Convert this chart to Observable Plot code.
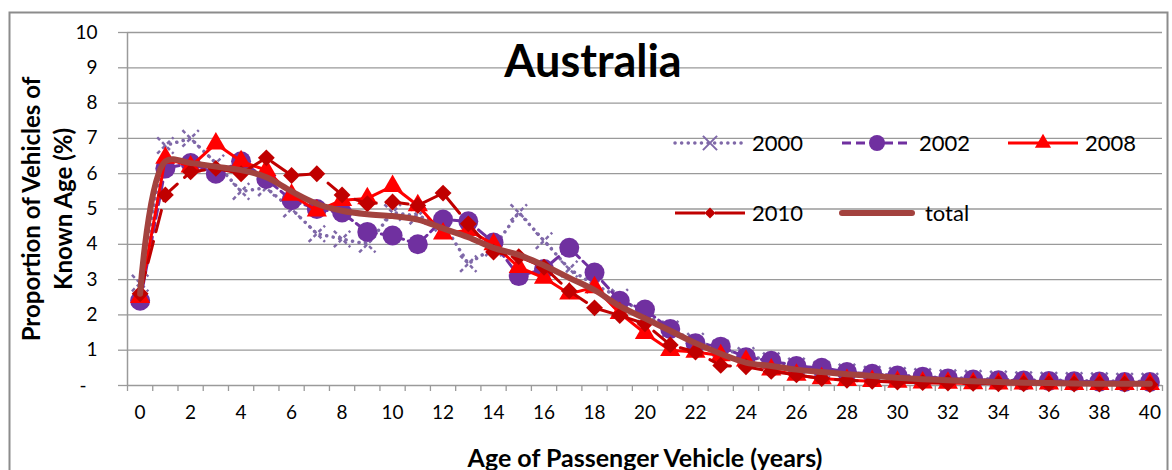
<!DOCTYPE html>
<html>
<head>
<meta charset="utf-8">
<script src="https://cdn.jsdelivr.net/npm/d3@7"></script>
<script src="https://cdn.jsdelivr.net/npm/@observablehq/plot@0.6"></script>
<style>
  html, body { margin: 0; padding: 0; background: #fff; }
  #chart { width: 1172px; height: 470px; }
</style>
</head>
<body>
<div id="chart"></div>
<script>
const ages = d3.range(0, 41);
const xTickLabels = d3.range(0, 41, 2);
const yTicks = d3.range(0, 11);

const s2000 = [2.9, 6.8, 7.0, 6.3, 5.5, 5.6, 5.0, 4.3, 4.15, 4.0, 4.9, 4.8, 4.6, 3.45, 3.9, 4.9, 4.1, 3.3, 2.85, 2.5,
  2.0, 1.6, 1.25, 1.05, 0.85, 0.7, 0.55, 0.45, 0.38, 0.32, 0.28, 0.25, 0.22, 0.2, 0.18, 0.16, 0.15, 0.14, 0.13, 0.12, 0.12];
const s2002 = [2.4, 6.15, 6.3, 6.0, 6.35, 5.85, 5.25, 5.0, 4.9, 4.35, 4.25, 4.0, 4.7, 4.65, 4.05, 3.1, 3.3, 3.9, 3.2, 2.4,
  2.15, 1.6, 1.2, 1.1, 0.8, 0.7, 0.55, 0.5, 0.38, 0.33, 0.28, 0.25, 0.2, 0.17, 0.15, 0.14, 0.13, 0.12, 0.11, 0.1, 0.1];
const s2008 = [2.5, 6.45, 6.2, 6.85, 6.35, 6.1, 5.4, 4.95, 5.25, 5.3, 5.65, 5.1, 4.3, 4.4, 4.0, 3.35, 3.05, 2.6, 2.78, 2.05,
  1.48, 1.0, 0.95, 0.85, 0.7, 0.45, 0.3, 0.2, 0.15, 0.12, 0.1, 0.08, 0.07, 0.06, 0.05, 0.05, 0.05, 0.04, 0.04, 0.04, 0.04];
const s2010 = [2.6, 5.4, 6.05, 6.15, 6.0, 6.45, 5.95, 6.0, 5.4, 5.15, 5.2, 5.1, 5.45, 4.58, 3.78, 3.65, 3.35, 2.68, 2.2, 1.98,
  1.75, 1.15, 0.95, 0.57, 0.53, 0.4, 0.3, 0.2, 0.15, 0.12, 0.1, 0.08, 0.07, 0.06, 0.05, 0.05, 0.05, 0.04, 0.04, 0.04, 0.03];
const sTotal = [2.6, 6.35, 6.3, 6.2, 6.1, 5.9, 5.5, 5.15, 4.95, 4.85, 4.8, 4.7, 4.45, 4.2, 3.9, 3.7, 3.4, 3.05, 2.7, 2.25,
  1.9, 1.55, 1.2, 0.9, 0.65, 0.55, 0.45, 0.38, 0.32, 0.27, 0.22, 0.18, 0.15, 0.12, 0.1, 0.08, 0.07, 0.06, 0.05, 0.05, 0.05];

const seriesNames = ["2000", "2002", "2008", "2010", "total"];
const titleText = "Australia";
const xLabel = "Age of Passenger Vehicle (years)";
const yLabel = "Proportion of Vehicles of\nKnown Age (%)";

const rows = (name, arr) => ages.map((a, i) => ({age: a, v: arr[i], series: name}));
const d2000 = rows("2000", s2000);
const d2002 = rows("2002", s2002);
const d2008 = rows("2008", s2008);
const d2010 = rows("2010", s2010);
const dTotal = rows("total", sTotal);

const C2000 = "#7F68A8", C2002 = "#7030A0", C2008 = "#FF0000", C2010 = "#C00000", CTOT = "#A3423E";
const GRID = "#9a9a9a";
const FONT = "Lato, 'Open Sans', sans-serif";

const plot = Plot.plot({
  width: 1172,
  height: 470,
  marginLeft: 127,
  marginRight: 10,
  marginTop: 32,
  marginBottom: 85,
  style: {fontFamily: FONT, fontSize: "19px", color: "#000", background: "transparent"},
  x: {type: "linear", domain: [-0.5, 40.5]},
  y: {domain: [0, 10]},
  marks: [
    Plot.gridY(d3.range(1, 11), {stroke: GRID, strokeOpacity: 1, strokeWidth: 1.3}),
    Plot.axisY(yTicks, {tickSize: 9, tickPadding: 21, stroke: GRID, strokeWidth: 1.3, fontSize: 19,
      tickFormat: d => d === 0 ? "-\u2007" : String(d), label: null}),
    Plot.axisX(d3.range(-0.5, 41), {tickSize: 6, stroke: GRID, strokeWidth: 1.3, tickFormat: () => "", label: null}),
    Plot.axisX(xTickLabels, {tickSize: 0, tickPadding: 20, fontSize: 19, tickFormat: d => String(d), label: null}),
    Plot.ruleY([0], {stroke: GRID, strokeWidth: 1.5}),
    Plot.ruleX([-0.5], {stroke: GRID, strokeWidth: 1.5}),

    // 2000
    Plot.line(d2000, {x: "age", y: "v", stroke: C2000, strokeWidth: 3.5, strokeDasharray: "0.1 6.5", strokeLinecap: "round"}),
    Plot.dot(d2000, {x: "age", y: "v", symbol: "times", r: 7.5, stroke: C2000, strokeWidth: 2.5, strokeDasharray: "4 3"}),
    // 2002
    Plot.line(d2002, {x: "age", y: "v", stroke: C2002, strokeWidth: 3, strokeDasharray: "9 5"}),
    Plot.dot(d2002, {x: "age", y: "v", symbol: "circle", r: 10, fill: C2002, stroke: "none"}),
    // 2008
    Plot.line(d2008, {x: "age", y: "v", stroke: C2008, strokeWidth: 3}),
    Plot.dot(d2008, {x: "age", y: "v", symbol: "triangle", r: 7.5, fill: C2008, stroke: "none"}),
    // 2010
    Plot.line(d2010, {x: "age", y: "v", stroke: C2010, strokeWidth: 3, strokeDasharray: "22 10"}),
    Plot.dot(d2010, {x: "age", y: "v", symbol: "diamond2", r: 7.6, fill: C2010, stroke: "none"}),
    // total
    Plot.line(dTotal, {x: "age", y: "v", stroke: CTOT, strokeWidth: 6, curve: "catmull-rom", strokeLinecap: "round"}),

    // title & axis labels
    Plot.text([titleText], {text: d => d, frameAnchor: "top", dx: -52, dy: 30, lineAnchor: "middle", textAnchor: "middle",
      fontSize: 45, fontWeight: "bold", fill: "#000"}),
    Plot.text([xLabel], {text: d => d, frameAnchor: "bottom", dy: 73, lineAnchor: "middle", textAnchor: "middle",
      fontSize: 25, fontWeight: "bold", fill: "#000"}),
    Plot.text([yLabel], {text: d => d, frameAnchor: "left", dx: -82, rotate: -90, lineAnchor: "middle", textAnchor: "middle",
      lineHeight: 1.35, fontSize: 24, fontWeight: "bold", fill: "#000"})
  ]
});

document.getElementById("chart").appendChild(plot);

// Outer chart-area border and legend
const svg = d3.select(plot);
svg.insert("rect", ":first-child")
  .attr("x", 9.5).attr("y", 12.5).attr("width", 1158).attr("height", 470)
  .attr("fill", "none").attr("stroke", "#8c8c8c").attr("stroke-width", 2);

const legendItems = [
  {name: seriesNames[0], x: 675, y: 143, color: C2000, dash: "0.1 6.5", cap: "round", width: 3.5, sym: d3.symbolTimes, size: Math.PI * 6.5 * 6.5, fill: "none", stroke: C2000},
  {name: seriesNames[1], x: 842, y: 143, color: C2002, dash: "9 5", cap: "butt", width: 3, sym: d3.symbolCircle, size: Math.PI * 8 * 8, fill: C2002, stroke: "none"},
  {name: seriesNames[2], x: 1008, y: 143, color: C2008, dash: null, cap: "butt", width: 3, sym: d3.symbolTriangle, size: Math.PI * 6 * 6, fill: C2008, stroke: "none"},
  {name: seriesNames[3], x: 675, y: 213, color: C2010, dash: "30 10", cap: "butt", width: 3, sym: d3.symbolDiamond2, size: Math.PI * 5 * 5, fill: C2010, stroke: "none"},
  {name: seriesNames[4], x: 842, y: 213, color: CTOT, dash: null, cap: "round", width: 6, sym: null}
];
const lg = svg.append("g").attr("font-family", FONT).attr("font-size", 22).attr("text-anchor", "start");
for (const it of legendItems) {
  const g = lg.append("g").attr("transform", `translate(${it.x},${it.y})`);
  g.append("line").attr("x1", 0).attr("x2", 70).attr("y1", 0).attr("y2", 0)
    .attr("stroke", it.color).attr("stroke-width", it.width)
    .attr("stroke-dasharray", it.dash).attr("stroke-linecap", it.cap);
  if (it.sym) {
    g.append("path").attr("transform", "translate(35,0)")
      .attr("d", d3.symbol(it.sym, it.size)())
      .attr("fill", it.fill).attr("stroke", it.stroke)
      .attr("stroke-width", it.stroke === "none" ? null : 2);
  }
  g.append("text").attr("x", it.name === "total" ? 83 : 77).attr("y", 0).attr("dy", "0.35em")
    .attr("text-anchor", "start").attr("fill", "#000").text(it.name);
}
</script>
</body>
</html>
